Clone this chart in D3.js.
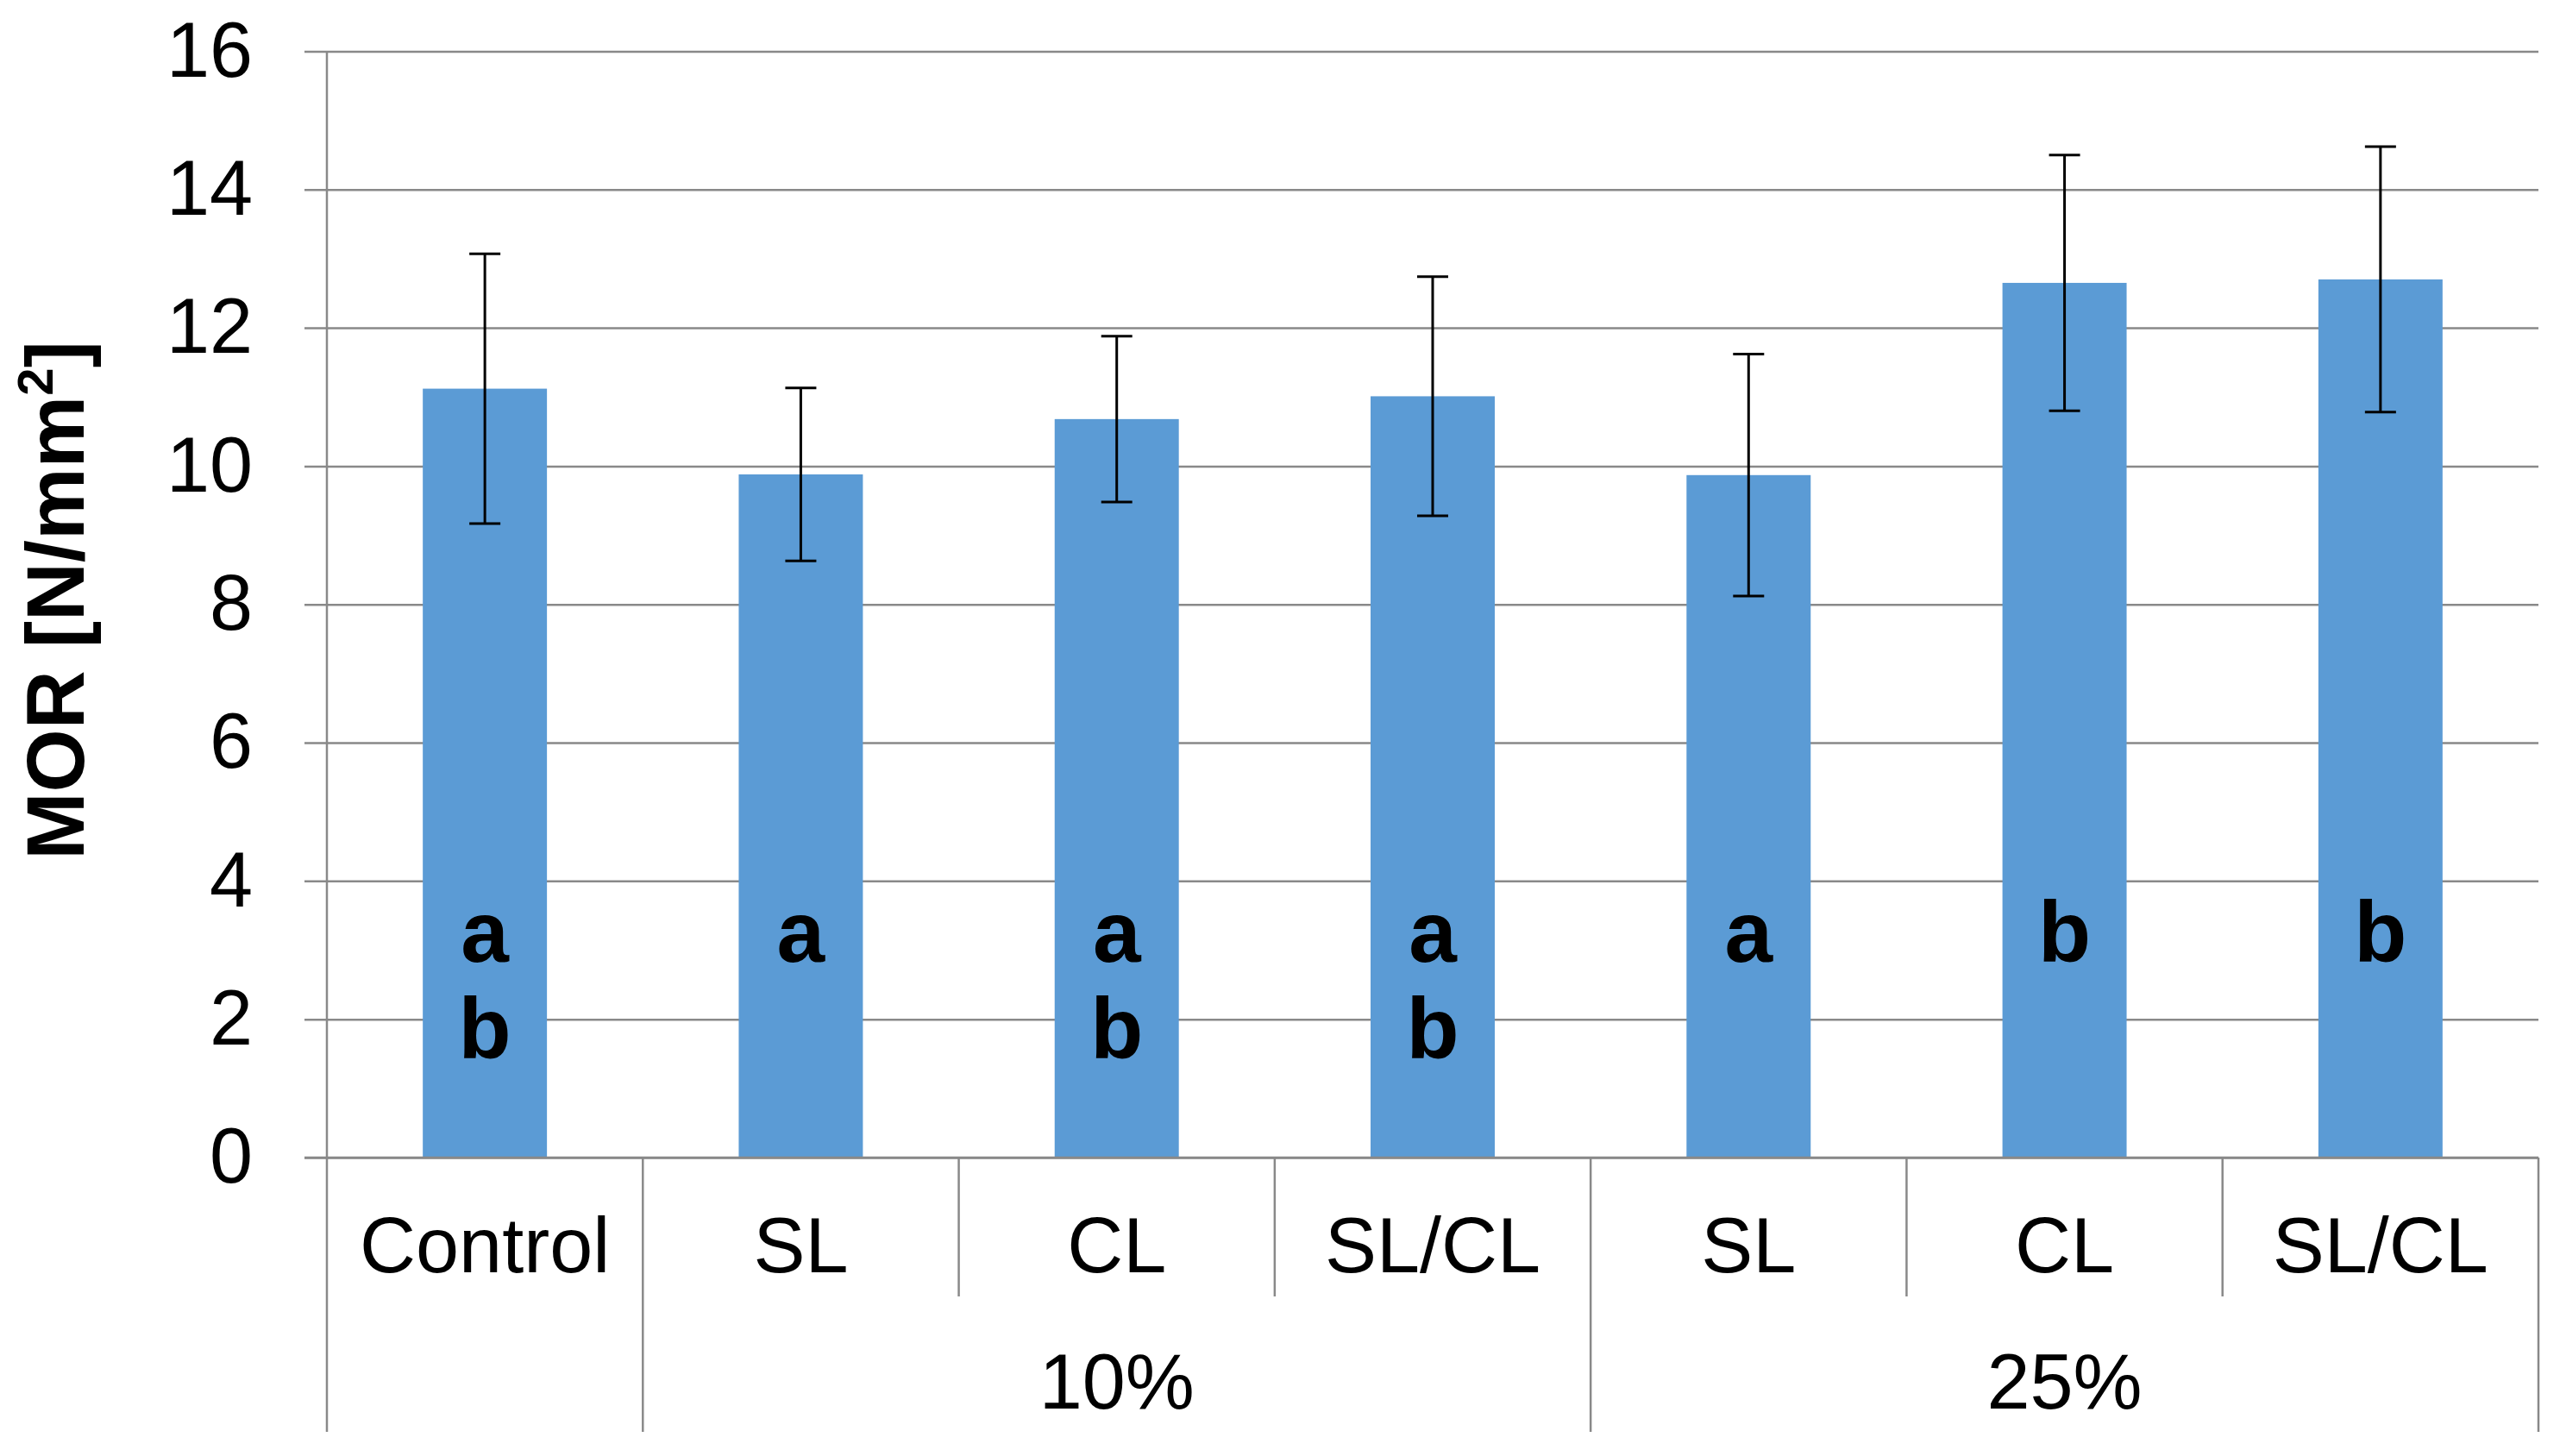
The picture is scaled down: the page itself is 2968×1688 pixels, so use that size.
<!DOCTYPE html>
<html>
<head>
<meta charset="utf-8">
<script src="https://cdn.jsdelivr.net/npm/d3@7"></script>
<style>
  html, body { margin: 0; padding: 0; background: #fff; }
  svg { display: block; }
  text { font-family: "Liberation Sans", Arial, sans-serif; }
</style>
</head>
<body>
<svg id="chart" width="2968" height="1688"></svg>
<script>
// ---- data ----
const categories = ["Control", "SL", "CL", "SL/CL", "SL", "CL", "SL/CL"];
const groupOf    = ["",        "10%", "10%", "10%", "25%", "25%", "25%"];
const means      = [11.12, 9.88, 10.68, 11.01, 9.87, 12.65, 12.70];
const sds        = [1.95, 1.25, 1.20, 1.73, 1.75, 1.85, 1.92];
const letters    = [["a","b"], ["a"], ["a","b"], ["a","b"], ["a"], ["b"], ["b"]];
const yTicks     = [0, 2, 4, 6, 8, 10, 12, 14, 16];

// ---- layout ----
const svg = d3.select("#chart");
const L = 379, R = 2943, T = 59.4, B = 1342;
const tickLeft = 353;
const innerBottom = 1503, outerBottom = 1660;
const font = '"Liberation Sans", Arial, sans-serif';
const gridColor = "#898989";

const idx = categories.map((d, i) => i);
const y = d3.scaleLinear().domain([0, 16]).range([B, T]);
const xCat = d3.scaleBand().domain(idx).range([L, R]).paddingInner(0).paddingOuter(0);
const xBar = d3.scaleBand().domain(idx).range([L, R]).paddingInner(0.607).paddingOuter(0.3035);

// gridlines + tick labels through one axis anchored at right edge
const yAxis = d3.axisLeft(y).tickValues(yTicks).tickSize(R - tickLeft).tickPadding(60)
  .tickFormat(d3.format("d"));
const gy = svg.append("g").attr("transform", `translate(${R},0)`).call(yAxis);
gy.select(".domain").remove();
gy.selectAll(".tick line").attr("stroke", gridColor).attr("stroke-width", 2.5);
gy.selectAll(".tick text").attr("font-size", 90).attr("font-family", font).attr("fill", "#000");

// bars
svg.append("g").selectAll("rect").data(idx).join("rect")
  .attr("x", i => xBar(i)).attr("width", xBar.bandwidth())
  .attr("y", i => y(means[i])).attr("height", i => y(0) - y(means[i]))
  .attr("fill", "#5B9BD5");

// redraw x axis line over bars
svg.append("line").attr("x1", tickLeft).attr("x2", R).attr("y1", y(0)).attr("y2", y(0))
  .attr("stroke", gridColor).attr("stroke-width", 2.5);

// left axis line
svg.append("line").attr("x1", L).attr("x2", L).attr("y1", T).attr("y2", outerBottom)
  .attr("stroke", gridColor).attr("stroke-width", 2.5);
// right border below axis
svg.append("line").attr("x1", R).attr("x2", R).attr("y1", y(0)).attr("y2", outerBottom)
  .attr("stroke", gridColor).attr("stroke-width", 2.5);

// category boundaries
const bounds = idx.slice(1).map(i => ({ x: xCat(i), groupChange: groupOf[i] !== groupOf[i - 1] }));
svg.append("g").selectAll("line").data(bounds).join("line")
  .attr("x1", d => d.x).attr("x2", d => d.x)
  .attr("y1", y(0)).attr("y2", d => d.groupChange ? outerBottom : innerBottom)
  .attr("stroke", gridColor).attr("stroke-width", 2.5);

// error bars
const eb = svg.append("g").attr("stroke", "#000").attr("stroke-width", 3);
const cap = 18;
idx.forEach(i => {
  const cx = xBar(i) + xBar.bandwidth() / 2;
  const hi = y(means[i] + sds[i]), lo = y(means[i] - sds[i]);
  eb.append("line").attr("x1", cx).attr("x2", cx).attr("y1", hi).attr("y2", lo);
  eb.append("line").attr("x1", cx - cap).attr("x2", cx + cap).attr("y1", hi).attr("y2", hi);
  eb.append("line").attr("x1", cx - cap).attr("x2", cx + cap).attr("y1", lo).attr("y2", lo);
});

// significance letters
const letterBase = y(2.83);
idx.forEach(i => {
  const cx = xBar(i) + xBar.bandwidth() / 2;
  letters[i].forEach((t, k) => {
    svg.append("text").attr("x", cx).attr("y", letterBase + k * 112)
      .attr("text-anchor", "middle").attr("font-size", 100).attr("font-weight", "bold")
      .attr("font-family", font).attr("fill", "#000").text(t);
  });
});

// category labels
svg.append("g").selectAll("text").data(idx).join("text")
  .attr("x", i => xCat(i) + xCat.bandwidth() / 2).attr("y", 1475)
  .attr("text-anchor", "middle").attr("font-size", 90).attr("font-family", font)
  .attr("fill", "#000").text(i => categories[i]);

// group labels
const groups = Array.from(d3.group(idx, i => groupOf[i]), ([k, v]) => ({ k, v })).filter(g => g.k !== "");
svg.append("g").selectAll("text").data(groups).join("text")
  .attr("x", g => (xCat(d3.min(g.v)) + xCat(d3.max(g.v)) + xCat.bandwidth()) / 2).attr("y", 1633)
  .attr("text-anchor", "middle").attr("font-size", 90).attr("font-family", font)
  .attr("fill", "#000").text(g => g.k);

// y title
const yt = svg.append("text").attr("transform", "translate(97,696) rotate(-90)")
  .attr("text-anchor", "middle").attr("font-size", 94).attr("font-weight", "bold")
  .attr("font-family", font).attr("fill", "#000");
yt.append("tspan").text("MOR [N/mm");
yt.append("tspan").attr("font-size", 58).attr("dy", -36).text("2");
yt.append("tspan").attr("dy", 36).text("]");
</script>
</body>
</html>
